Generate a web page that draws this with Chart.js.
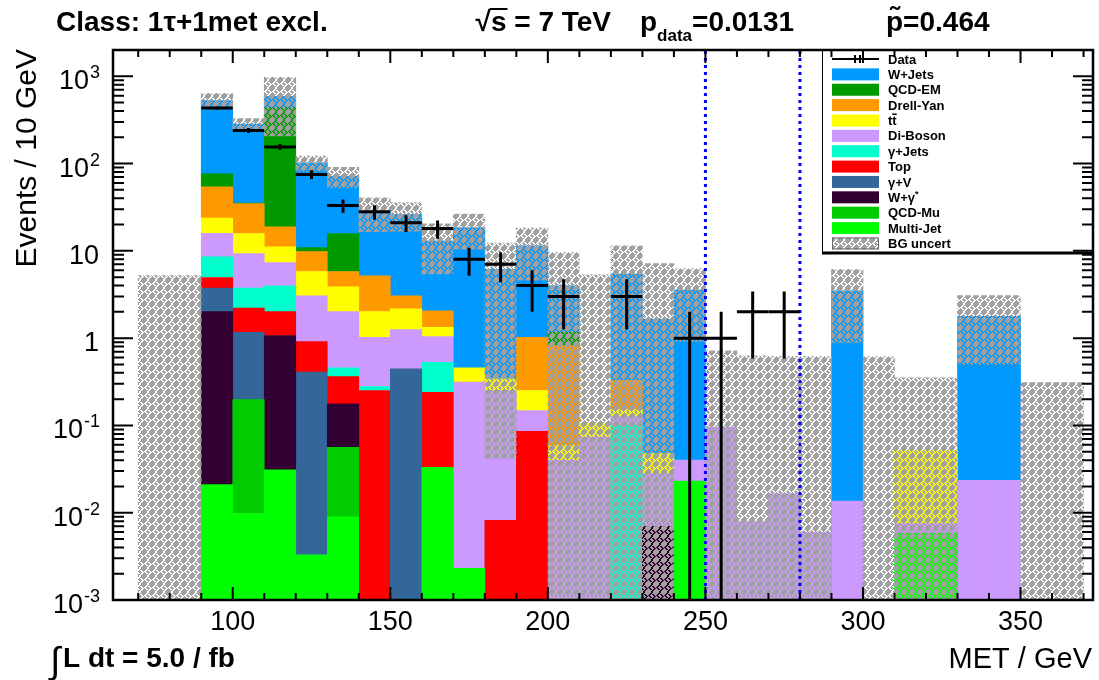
<!DOCTYPE html>
<html>
<head>
<meta charset="utf-8">
<script src="https://cdn.jsdelivr.net/npm/chart.js@4.4.1/dist/chart.umd.min.js"></script>
<style>
    html, body { margin: 0; padding: 0; background: #fff; }
    #wrap { width: 1099px; height: 680px; position: relative; }
</style>
</head>
<body>
<div id="wrap"><canvas id="met"></canvas></div>
<script>
// bins: 10 GeV wide, centres from 75 to 365 GeV
const binCenters = [75, 85, 95, 105, 115, 125, 135, 145, 155, 165, 175, 185, 195, 205, 215,
                    225, 235, 245, 255, 265, 275, 285, 295, 305, 315, 325, 335, 345, 355, 365];
const binWidth = 10;
const xTicks = [70, 80, 90, 100, 110, 120, 130, 140, 150, 160, 170, 180, 190, 200, 210, 220,
                230, 240, 250, 260, 270, 280, 290, 300, 310, 320, 330, 340, 350, 360, 370];
const xLabels = [100, 150, 200, 250, 300, 350];
const yDecades = [-3, -2, -1, 0, 1, 2, 3];
const cutLines = [250, 280];

// background processes, stacked from the bottom up
const multiJet   = [0, 0, 0.021, 0.0098, 0.031, 0.0033, 0.009, 0, 0, 0.033, 0.0023, 0, 0, 0, 0, 0, 0, 0.023, 0, 0, 0, 0, 0, 0, 0.0058, 0.0058, 0, 0, 0, 0];
const qcdMu      = [0, 0, 0, 0.188, 0, 0, 0.047, 0, 0, 0, 0, 0, 0, 0, 0, 0, 0, 0, 0, 0, 0, 0, 0, 0, 0, 0, 0, 0, 0, 0];
const wGammaStar = [0, 0, 1.99, 0, 1.04, 0, 0.121, 0, 0, 0, 0, 0, 0, 0, 0, 0, 0.007, 0, 0, 0, 0, 0, 0, 0, 0, 0, 0, 0, 0, 0];
const gammaV     = [0, 0, 1.74, 0.967, 0, 0.404, 0, 0, 0.445, 0, 0, 0, 0, 0, 0, 0, 0, 0, 0, 0, 0, 0, 0, 0, 0, 0, 0, 0, 0, 0];
const topQ       = [0, 0, 1.2, 1.045, 0.94, 0.505, 0.186, 0.251, 0, 0.207, 0, 0.0082, 0.0854, 0, 0, 0, 0, 0, 0, 0, 0, 0, 0, 0, 0, 0, 0, 0, 0, 0];
const gammaJets  = [0, 0, 3.59, 1.54, 1.97, 0, 0.093, 0.028, 0, 0.289, 0, 0, 0, 0, 0, 0.1, 0, 0, 0, 0, 0, 0, 0, 0, 0, 0, 0, 0, 0, 0];
const diBoson    = [0, 0, 7.36, 5.56, 3.37, 2.15, 1.56, 0.74, 0.805, 0.51, 0.311, 0.243, 0.063, 0.0398, 0.0735, 0.027, 0.021, 0.017, 0.096, 0.0079, 0.0166, 0.006, 0.0136, 0, 0.0017, 0.0017, 0.0235, 0.0235, 0, 0];
const ttbar      = [0, 0, 7.9, 6.49, 3.75, 2.74, 1.86, 1.0, 0.91, 0.29, 0.143, 0.091, 0.103, 0.019, 0.032, 0.024, 0.0195, 0, 0, 0, 0, 0, 0, 0, 0.044, 0.044, 0, 0, 0, 0];
const drellYan   = [0, 0, 30.5, 18.9, 7.8, 4.02, 1.92, 3.16, 0.9, 0.73, 0, 0, 0.77, 0.762, 0, 0.176, 0, 0, 0, 0, 0, 0, 0, 0, 0, 0, 0, 0, 0, 0];
const qcdEm      = [0, 0, 22.1, 0.5, 415, 1.08, 10.0, 0, 0, 0, 0, 0, 0, 0.344, 0, 0, 0, 0, 0, 0, 0, 0, 0, 0, 0, 0, 0, 0, 0, 0];
const wJets      = [0, 0, 451, 249, 157, 91, 56, 23.4, 23.2, 10.9, 18.0, 5.8, 10.4, 2.82, 0, 5.09, 1.61, 3.52, 0, 0, 0, 0, 3.48, 0, 0, 0, 1.76, 1.76, 0, 0];
const bgErr      = [5.2, 5.2, 107, 44, 383, 20, 19, 12, 9.5, 7.5, 8, 6.1, 6.8, 5.6, 5.2, 6.0, 5.5, 2.65, 0.62, 0.62, 0.6, 0.61, 2.6, 0.61, 0.3, 0.3, 1.28, 1.28, 0.31, 0.31];
const dataCounts = [0, 0, 434, 240, 155, 75, 33, 28, 21, 18, 8, 7, 4, 3, 0, 3, 0, 1, 1, 2, 2, 0, 0, 0, 0, 0, 0, 0, 0, 0];

const procs = [
    { label: 'Multi-Jet', color: '#00ff00', values: multiJet },
    { label: 'QCD-Mu', color: '#00cc00', values: qcdMu },
    { label: 'W+\u03b3*', color: '#330033', values: wGammaStar },
    { label: '\u03b3+V', color: '#336699', values: gammaV },
    { label: 'Top', color: '#ff0000', values: topQ },
    { label: '\u03b3+Jets', color: '#00ffcc', values: gammaJets },
    { label: 'Di-Boson', color: '#cc99ff', values: diBoson },
    { label: 'tt\u0304', color: '#ffff00', values: ttbar },
    { label: 'Drell-Yan', color: '#ff9900', values: drellYan },
    { label: 'QCD-EM', color: '#009900', values: qcdEm },
    { label: 'W+Jets', color: '#0099ff', values: wJets }
];

const xMin = 62, xMax = 373, yMin = 1e-3, yMax = 2000;
const FONT = '"Liberation Sans", Arial, Helvetica, sans-serif';

// grey swirl hatch used for the background uncertainty
function makeHatch() {
    const rows = [
        "###..###",
        "##..####",
        "#..#..##",
        "..###..#",
        "#..###..",
        "##..#..#",
        "####..##",
        "###..###",
    ];
    const c = document.createElement('canvas');
    c.width = 8; c.height = 8;
    const g = c.getContext('2d');
    g.fillStyle = '#a0a0a0';
    rows.forEach((r, j) => {
        for (let i = 0; i < 8; i++) if (r[i] === '#') g.fillRect(i, j, 1, 1);
    });
    return g.createPattern(c, 'repeat');
}
const hatch = makeHatch();

const totals = binCenters.map((_, i) => procs.reduce((s, p) => s + p.values[i], 0));

const datasets = procs.map(p => ({
    label: p.label,
    data: p.values.map((v, i) => ({ x: binCenters[i], y: v })),
    backgroundColor: p.color,
    borderWidth: 0,
    grouped: false,
    barPercentage: 1,
    categoryPercentage: 1,
    stack: 'bg'
}));
datasets.push({
    label: 'BG uncert',
    data: totals.map((t, i) => ({ x: binCenters[i], y: [Math.max(t - bgErr[i], 1e-4), t + bgErr[i]] })),
    backgroundColor: hatch,
    borderWidth: 0,
    grouped: false,
    barPercentage: 1,
    categoryPercentage: 1,
    stack: 'unc',
    order: -1
});

function supText(ctx, base, sup, xRight, yBase, size, supSize) {
    ctx.font = size + 'px ' + FONT;
    const wb = ctx.measureText(base).width;
    ctx.font = supSize + 'px ' + FONT;
    const ws = sup ? ctx.measureText(sup).width + 1 : 0;
    const x0 = xRight - wb - ws;
    ctx.font = size + 'px ' + FONT;
    ctx.fillText(base, x0, yBase);
    if (sup) {
        ctx.font = supSize + 'px ' + FONT;
        ctx.fillText(sup, x0 + wb + 1, yBase - 11);
    }
}

const rootStyle = {
    id: 'rootStyle',
    afterDatasetsDraw(chart) {
        const { ctx, chartArea: a, scales } = chart;
        const xs = scales.x, ys = scales.y;
        ctx.save();

        // cut lines
        ctx.strokeStyle = '#0000ff';
        ctx.lineWidth = 3;
        ctx.setLineDash([3, 4]);
        cutLines.forEach(v => {
            const px = xs.getPixelForValue(v);
            ctx.beginPath();
            ctx.moveTo(px, a.bottom);
            ctx.lineTo(px, a.top);
            ctx.stroke();
        });
        ctx.setLineDash([]);

        // data with poisson errors
        ctx.strokeStyle = '#000';
        ctx.lineWidth = 3;
        dataCounts.forEach((n, i) => {
            if (!n) return;
            const c = binCenters[i];
            const xl = xs.getPixelForValue(c - binWidth / 2);
            const xr = xs.getPixelForValue(c + binWidth / 2);
            const xc = xs.getPixelForValue(c);
            const yc = ys.getPixelForValue(n);
            const e = Math.sqrt(n);
            const yHi = ys.getPixelForValue(n + e);
            const yLo = n - e > yMin ? ys.getPixelForValue(n - e) : a.bottom;
            ctx.beginPath();
            ctx.moveTo(xl, yc); ctx.lineTo(xr, yc);
            ctx.moveTo(xc, yHi); ctx.lineTo(xc, yLo);
            ctx.stroke();
        });

        // legend
        const lx = 822, ly = a.top, lw = a.right - lx, lh = 202;
        ctx.fillStyle = '#fff';
        ctx.fillRect(lx, ly, lw, lh);
        ctx.strokeStyle = '#000';
        ctx.lineWidth = 1;
        ctx.strokeRect(lx + 0.5, ly + 0.5, lw, lh);
        ctx.lineWidth = 3;
        ctx.beginPath(); ctx.moveTo(lx, ly + lh + 1); ctx.lineTo(a.right, ly + lh + 1); ctx.stroke();

        const entries = [{ label: 'Data', kind: 'data' }]
            .concat(procs.slice().reverse().map(p => ({ label: p.label, color: p.color })))
            .concat([{ label: 'BG uncert', kind: 'unc' }]);
        ctx.textBaseline = 'middle';
        ctx.textAlign = 'left';
        entries.forEach((en, k) => {
            const cy = 59 + k * 15.37;
            if (en.kind === 'data') {
                ctx.strokeStyle = '#000';
                ctx.lineWidth = 2;
                ctx.beginPath();
                ctx.moveTo(832, cy); ctx.lineTo(879, cy);
                ctx.moveTo(855, cy - 4); ctx.lineTo(855, cy + 4);
                ctx.moveTo(860, cy - 4); ctx.lineTo(860, cy + 4);
                ctx.stroke();
            } else if (en.kind === 'unc') {
                ctx.fillStyle = hatch;
                ctx.fillRect(832, cy - 6, 47, 12);
                ctx.strokeStyle = '#666';
                ctx.lineWidth = 1;
                ctx.strokeRect(832.5, cy - 5.5, 46, 11);
            } else {
                ctx.fillStyle = en.color;
                ctx.fillRect(832, cy - 6, 47, 12);
            }
            ctx.fillStyle = '#000';
            ctx.font = 'bold 13px ' + FONT;
            if (en.label === 'W+\u03b3*') {
                ctx.fillText('W+\u03b3', 888, cy + 1);
                const w = ctx.measureText('W+\u03b3').width;
                ctx.font = 'bold 9px ' + FONT;
                ctx.fillText('*', 888 + w, cy - 3);
            } else if (en.label === 'tt\u0304') {
                ctx.fillText('tt', 888, cy + 1);
                const w1 = ctx.measureText('t').width, w2 = ctx.measureText('tt').width;
                ctx.fillRect(888 + w1, cy - 7, w2 - w1, 1.5);
            } else {
                ctx.fillText(en.label, 888, cy + 1);
            }
        });

        // frame
        ctx.strokeStyle = '#000';
        ctx.lineWidth = 2.5;
        ctx.strokeRect(a.left, a.top, a.right - a.left, a.bottom - a.top);

        // ticks
        ctx.lineWidth = 2;
        ctx.beginPath();
        xs.ticks.forEach(t => {
            const px = xs.getPixelForValue(t.value);
            const len = t.value % 50 === 0 ? 13 : 7;
            ctx.moveTo(px, a.bottom); ctx.lineTo(px, a.bottom - len);
            ctx.moveTo(px, a.top); ctx.lineTo(px, a.top + len);
        });
        yDecades.forEach(d => {
            for (let m = 1; m <= 9; m++) {
                const v = m * Math.pow(10, d);
                if (v > yMax) break;
                const py = ys.getPixelForValue(v);
                const len = m === 1 ? 20 : 11;
                ctx.moveTo(a.left, py); ctx.lineTo(a.left + len, py);
                ctx.moveTo(a.right, py); ctx.lineTo(a.right - len, py);
            }
        });
        ctx.stroke();

        // tick labels
        ctx.fillStyle = '#000';
        ctx.textBaseline = 'alphabetic';
        ctx.textAlign = 'center';
        ctx.font = '27px ' + FONT;
        xLabels.forEach(v => ctx.fillText(String(v), xs.getPixelForValue(v), 630));
        ctx.textAlign = 'left';
        yDecades.forEach(d => {
            const py = ys.getPixelForValue(Math.pow(10, d));
            if (d === 0) supText(ctx, '1', '', 99, py + 13, 27, 18);
            else if (d === 1) supText(ctx, '10', '', 99, py + 13, 27, 18);
            else supText(ctx, '10', String(d), 100, py + 13, 27, 18);
        });

        // axis titles
        ctx.textAlign = 'right';
        ctx.font = '29px ' + FONT;
        ctx.fillText('MET / GeV', 1092, 668);
        ctx.font = '30px ' + FONT;
        ctx.save();
        ctx.translate(36, 49);
        ctx.rotate(-Math.PI / 2);
        ctx.fillText('Events / 10 GeV', 0, 0);
        ctx.restore();

        // luminosity
        ctx.textAlign = 'left';
        ctx.font = '37px ' + FONT;
        ctx.fillText('\u222b', 50, 673);
        ctx.font = 'bold 28px ' + FONT;
        ctx.fillText('L dt = 5.0 / fb', 63, 667);

        // header
        ctx.font = 'bold 28px ' + FONT;
        ctx.fillText('Class: 1\u03c4+1met excl.', 56, 31);
        const rest = 's = 7 TeV';
        const wRest = ctx.measureText(rest).width;
        const wr = ctx.measureText('\u221a').width;
        const sx = 611 - wRest - wr;
        ctx.fillText('\u221a', sx, 31);
        ctx.fillText(rest, sx + wr, 31);
        const ws = ctx.measureText('s').width;
        ctx.fillRect(sx + wr - 1, 8, ws + 2, 2);
        const px0 = 640;
        ctx.fillText('p', px0, 31);
        const wp = ctx.measureText('p').width;
        ctx.font = 'bold 17px ' + FONT;
        ctx.fillText('data', px0 + wp, 41);
        const wd = ctx.measureText('data').width;
        ctx.font = 'bold 28px ' + FONT;
        ctx.fillText('=0.0131', px0 + wp + wd, 31);
        const tx = 886;
        ctx.fillText('p', tx, 31);
        ctx.textAlign = 'center';
        ctx.fillText('\u02dc', tx + wp / 2, 26);
        ctx.textAlign = 'left';
        ctx.fillText('=0.464', tx + wp, 31);

        ctx.restore();
    }
};

new Chart(document.getElementById('met'), {
    type: 'bar',
    data: { datasets },
    options: {
        responsive: true,
        maintainAspectRatio: false,
        animation: false,
        layout: { padding: { left: 113, right: 6, top: 50, bottom: 80 } },
        plugins: { legend: { display: false }, tooltip: { enabled: false } },
        scales: {
            x: {
                type: 'linear', min: xMin, max: xMax, display: false, offset: false,
                afterBuildTicks: s => { s.ticks = xTicks.map(v => ({ value: v })); }
            },
            y: { type: 'logarithmic', min: yMin, max: yMax, stacked: true, display: false }
        }
    },
    plugins: [rootStyle]
});
</script>
</body>
</html>
